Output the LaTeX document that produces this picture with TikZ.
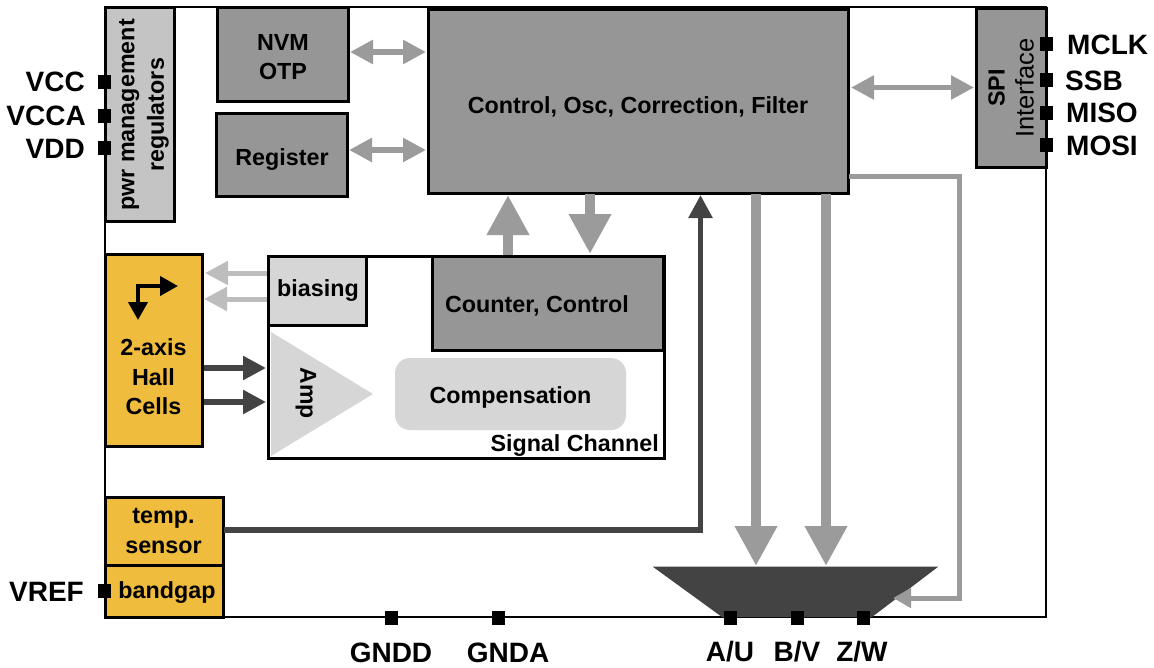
\documentclass[tikz,border=0pt]{standalone}
\usepackage{fontspec}
\setmainfont{Liberation Sans}
\usetikzlibrary{arrows.meta}
\definecolor{dgray}{HTML}{969696}
\definecolor{mgray}{HTML}{C4C4C4}
\definecolor{lgray}{HTML}{D6D6D6}
\definecolor{gold}{HTML}{F0BC3E}
\definecolor{ink}{HTML}{434343}
\definecolor{arrowgray}{HTML}{9B9B9B}
\definecolor{paleline}{HTML}{BDBDBD}
\tikzset{
  x=1pt,y=-1pt,
  blockstyle/.style={draw=black,line width=3pt,outer sep=0pt,inner sep=0pt,align=center},
  pinstyle/.style={fill=black,draw=none,minimum width=13pt,minimum height=14pt,inner sep=0pt,outer sep=0pt},
  pinlabel/.style={font=\fontsize{28}{30}\selectfont\bfseries,inner sep=0pt},
  lbl/.style={font=\fontsize{23.3}{29.5}\selectfont\bfseries,inner sep=0pt,align=center},
  dbl/.style={draw=arrowgray,line width=5.5pt,{Triangle[length=23pt,width=23pt]}-{Triangle[length=23pt,width=23pt]}},
  fat/.style={draw=arrowgray,line width=10pt,-{Triangle[length=40pt,width=40pt]}},
  paleb/.style={draw=paleline,line width=5pt,-{Triangle[length=23pt,width=23pt]}},
  darkb/.style={draw=ink,line width=5.5pt,-{Triangle[length=23pt,width=23pt]}},
}
\newcommand{\blockat}[6]{\node[blockstyle,fill=#1,minimum width=#4pt,minimum height=#5pt,anchor=north west] (#2) at #3 {#6};}
\begin{document}
\begin{tikzpicture}
\useasboundingbox (0,0) rectangle (1154,667);
\fill[white] (0,0) rectangle (1154,667);
% chip outline
\node[draw=black,line width=2.4pt,outer sep=0pt,minimum width=941pt,minimum height=610pt,anchor=north west,inner sep=0pt] (chip) at (105,7) {};
% signal channel
\node[blockstyle,fill=white,minimum width=396pt,minimum height=202pt,anchor=north west] (sig) at (268,256) {};
% blocks
\blockat{mgray}{pwr}{(105,7)}{69}{214}{}
\node[lbl,rotate=90] (pwrtxt) at (144,115) {pwr management\\regulators};
\blockat{dgray}{nvm}{(217,7)}{131}{94}{}
\node[lbl] (nvmtxt) at (283,57) {NVM\\OTP};
\blockat{dgray}{reg}{(216,113.5)}{131}{83}{}
\node[lbl] (regtxt) at (282,160) {Register};
\blockat{dgray}{ctl}{(428,9)}{420}{184}{}
\node[lbl] (ctltxt) at (638,107) {Control, Osc, Correction, Filter};
\blockat{dgray}{spi}{(976.5,8)}{69.5}{159}{}
\node[lbl,rotate=90,font=\fontsize{25.5}{29}\selectfont\bfseries] (spitxt) at (1011,88) {{\fontsize{23.3}{29}\selectfont SPI}\\\mdseries Interface};
\blockat{gold}{hall}{(105,254)}{97}{192}{}
\node[lbl] (halltxt) at (153.5,377) {2-axis\\Hall\\Cells};
\blockat{lgray}{bias}{(268.5,256)}{98}{69}{}
\node[lbl] (biastxt) at (318,291) {biasing};
\blockat{dgray}{cnt}{(432,256)}{231.5}{94}{}
\node[lbl] (cnttxt) at (537,306) {Counter, Control};
\blockat{gold}{temp}{(105,497)}{118}{68}{}
\node[lbl] (temptxt) at (163.5,531) {temp.\\sensor};
\blockat{gold}{gap}{(105,565)}{118}{52}{}
\node[lbl] (gaptxt) at (167,593) {bandgap};
% amp
\fill[lgray] (271,332) -- (373,394) -- (271,456) -- cycle;
\coordinate (ampa) at (266,368);
\coordinate (ampb) at (266,402);
\node[rotate=-90,font=\fontsize{23}{24}\selectfont\bfseries,inner sep=0pt] (amp) at (306,393) {Amp};
% compensation
\node[fill=lgray,rounded corners=15pt,minimum width=231pt,minimum height=72pt,inner sep=0pt,outer sep=0pt] (comp) at (510.5,394) {};
\node[lbl] (comptxt) at (510.5,397) {Compensation};
\node[lbl,anchor=east] (sc) at (659,446) {Signal Channel};
% bidirectional
\coordinate (c1) at (426,52);\coordinate (c2) at (426,150);\coordinate (c3) at (851,87.5);\coordinate (s3) at (974,87.5);
\coordinate (n1) at (350,52);\coordinate (r1) at (349,150);
\draw[dbl] (n1) -- (c1);
\draw[dbl] (r1) -- (c2);
\draw[dbl] (c3) -- (s3);
% fat
\coordinate (up0) at (508,255);\coordinate (up1) at (508,195);
\coordinate (dn0) at (590,194);\coordinate (dn1) at (590,254);
\draw[fat] (up0) -- (up1);
\draw[fat] (dn0) -- (dn1);
\coordinate (muxa) at (756,566);\coordinate (muxb) at (826,566);
\coordinate (ca) at (756,194);\coordinate (cb) at (826,194);
% mux
\fill[ink] (652.5,566.5) -- (938.5,566.5) -- (872,617) -- (722,617) -- cycle;
\draw[fat] (ca) -- (muxa);
\draw[fat] (cb) -- (muxb);
\coordinate (muxc) at (893,598);
% feedback
\draw[draw=arrowgray,line width=5pt,-{Triangle[length=18pt,width=19pt]}] (849,176.5) -- (959,176.5) -- (959,598) -- (muxc);
% biasing
\coordinate (b1) at (267,273);\coordinate (b2) at (267,299);\coordinate (h1) at (205,273);\coordinate (h2) at (204,299);
\draw[paleb] (b1) -- (h1);
\draw[paleb] (b2) -- (h2);
% hall to amp
\coordinate (h3) at (204,368);\coordinate (h4) at (204,402);
\draw[darkb] (h3) -- (ampa);
\draw[darkb] (h4) -- (ampb);
% temp
\coordinate (tc) at (700.5,195);
\coordinate (ts) at (224,530);
\draw[darkb] (ts) -- (700.5,530) -- (tc);
% hall icon
\draw[black,line width=4pt,line join=miter,-{Triangle[length=18pt,width=19pt]}] (138,304) -- (138,286) -- (178,286);
\draw[black,line width=4pt,-{Triangle[length=18pt,width=19pt]}] (138,290) -- (138,320);
% pins
\foreach \n/\x/\y in {vcc/104.5/81.5,vcca/104.5/116,vdd/104.5/148,vref/104.5/591,gndd/391/618,gnda/498/618,au/730/618,bv/797/618,zw/863/618,mclk/1046/43.5,ssb/1046/79.5,miso/1046/112.5,mosi/1046/145}
  \node[pinstyle] (p\n) at (\x,\y) {};
% pin labels
\node[pinlabel,anchor=east] at (85,82) {VCC};
\node[pinlabel,anchor=east] at (86,116) {VCCA};
\node[pinlabel,anchor=east] at (85,149) {VDD};
\node[pinlabel,anchor=east] at (84,592) {VREF};
\node[pinlabel] at (391,653) {GNDD};
\node[pinlabel] at (508,653) {GNDA};
\node[pinlabel] at (730,652) {A/U};
\node[pinlabel] at (797,652) {B/V};
\node[pinlabel] at (862,652) {Z/W};
\node[pinlabel,anchor=west] at (1067,45) {MCLK};
\node[pinlabel,anchor=west] at (1065,81) {SSB};
\node[pinlabel,anchor=west] at (1066,113) {MISO};
\node[pinlabel,anchor=west] at (1066,146) {MOSI};
\end{tikzpicture}
\end{document}
